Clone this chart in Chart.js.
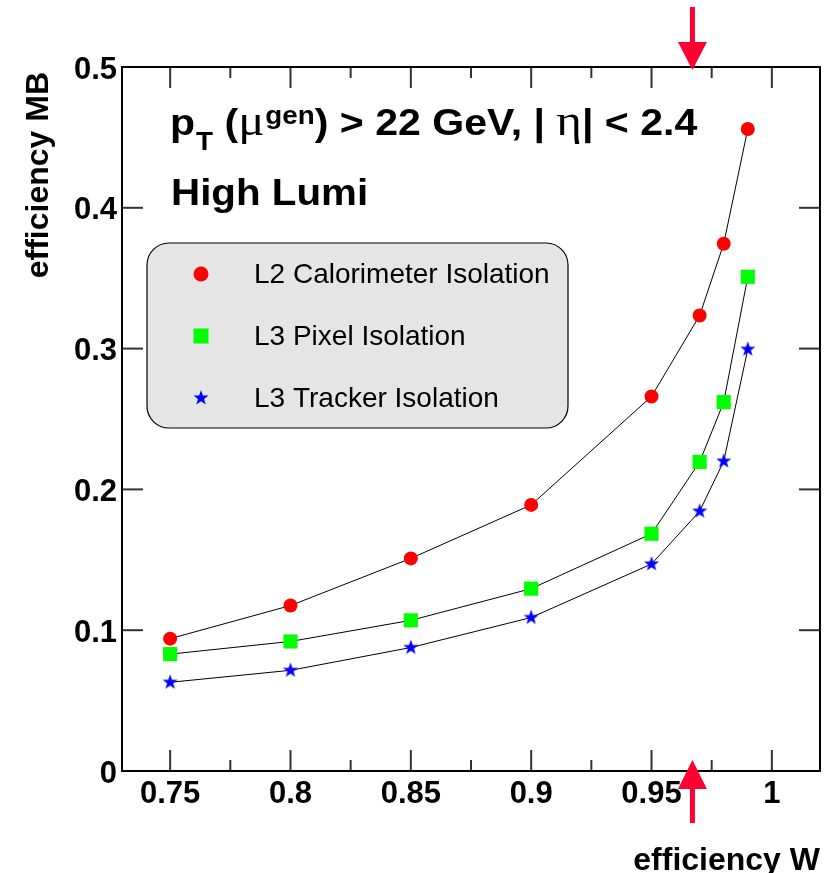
<!DOCTYPE html>
<html>
<head>
<meta charset="utf-8">
<script src="https://cdn.jsdelivr.net/npm/chart.js@4.4.1/dist/chart.umd.min.js"></script>
<style>
  body { margin: 0; background: #fff; }
  canvas { display: block; }
</style>
</head>
<body>
<canvas id="grafico" width="830" height="873"></canvas>
<script>
// datos
const effW = [0.75, 0.8, 0.85, 0.9, 0.95, 0.97, 0.98, 0.99];
const effCalo = [0.094, 0.1175, 0.151, 0.189, 0.266, 0.3235, 0.3745, 0.456];
const effPixel = [0.083, 0.092, 0.107, 0.1295, 0.1685, 0.2195, 0.262, 0.351];
const effTracker = [0.063, 0.0715, 0.0877, 0.109, 0.147, 0.1845, 0.22, 0.2995];
const nombresSeries = ['L2 Calorimeter Isolation', 'L3 Pixel Isolation', 'L3 Tracker Isolation'];
const xTicks = [0.75, 0.8, 0.85, 0.9, 0.95, 1];
const xMinorTicks = [0.775, 0.825, 0.875, 0.925, 0.975];
const yTicks = [0, 0.1, 0.2, 0.3, 0.4, 0.5];
const flechaW = 0.967;

const FUENTE = 'Liberation Sans, Arial, sans-serif';
const SERIF = 'Liberation Serif, Times New Roman, serif';

function hacerEstrella(rExt, rInt, color) {
    const s = Math.ceil(rExt * 2) + 2;
    const c = document.createElement('canvas');
    c.width = s;
    c.height = s;
    const g = c.getContext('2d');
    g.fillStyle = color;
    g.beginPath();
    for (let i = 0; i < 10; i++) {
        const r = i % 2 ? rInt : rExt;
        const a = -Math.PI / 2 + i * Math.PI / 5;
        g.lineTo(s / 2 + r * Math.cos(a), s / 2 + r * Math.sin(a));
    }
    g.closePath();
    g.fill();
    return c;
}

const estrella = hacerEstrella(8, 3.2, '#0000ff');
const puntos = ys => effW.map((x, i) => ({ x: x, y: ys[i] }));

function linea(ctx, x1, y1, x2, y2) {
    ctx.beginPath();
    ctx.moveTo(x1, y1);
    ctx.lineTo(x2, y2);
    ctx.stroke();
}

function marcador(ctx, tipo, x, y) {
    if (tipo === 0) {
        ctx.fillStyle = '#ff0000';
        ctx.beginPath();
        ctx.arc(x, y, 7.5, 0, Math.PI * 2);
        ctx.fill();
    } else if (tipo === 1) {
        ctx.fillStyle = '#00ff00';
        ctx.fillRect(x - 7.5, y - 7.5, 15, 15);
    } else {
        ctx.drawImage(estrella, x - estrella.width / 2, y - estrella.height / 2);
    }
}

const decoracion = {
    id: 'decoracion',
    afterDraw(chart) {
        const ctx = chart.ctx;
        const a = chart.chartArea;
        const xs = chart.scales.x;
        const ys = chart.scales.y;
        ctx.save();

        // ticks hacia dentro
        ctx.strokeStyle = '#333';
        ctx.lineWidth = 2;
        xTicks.forEach(v => {
            const px = xs.getPixelForValue(v);
            linea(ctx, px, a.bottom, px, a.bottom - 21);
            linea(ctx, px, a.top, px, a.top + 21);
        });
        xMinorTicks.forEach(v => {
            const px = xs.getPixelForValue(v);
            linea(ctx, px, a.bottom, px, a.bottom - 11);
            linea(ctx, px, a.top, px, a.top + 11);
        });
        yTicks.forEach(v => {
            const py = ys.getPixelForValue(v);
            linea(ctx, a.left, py, a.left + 21, py);
            linea(ctx, a.right, py, a.right - 21, py);
        });

        // marco
        ctx.strokeStyle = '#000';
        ctx.lineWidth = 2;
        ctx.strokeRect(a.left, a.top, a.right - a.left, a.bottom - a.top);

        // leyenda
        const lx1 = 147, lx2 = 568, ly1 = 243, ly2 = 428, r = 22;
        ctx.beginPath();
        ctx.moveTo(lx1 + r, ly1);
        ctx.arcTo(lx2, ly1, lx2, ly2, r);
        ctx.arcTo(lx2, ly2, lx1, ly2, r);
        ctx.arcTo(lx1, ly2, lx1, ly1, r);
        ctx.arcTo(lx1, ly1, lx2, ly1, r);
        ctx.closePath();
        ctx.fillStyle = '#e5e5e5';
        ctx.fill();
        ctx.lineWidth = 1.2;
        ctx.strokeStyle = '#000';
        ctx.stroke();
        const filas = [274, 336, 398];
        ctx.font = '28px ' + FUENTE;
        ctx.textBaseline = 'middle';
        ctx.textAlign = 'left';
        nombresSeries.forEach((n, i) => {
            marcador(ctx, i, 201, filas[i]);
            ctx.fillStyle = '#000';
            ctx.fillText(n, 254, filas[i] + 1);
        });

        // texto principal (algo ensanchado, como en el original)
        ctx.fillStyle = '#000';
        ctx.textBaseline = 'alphabetic';
        let k = 1.11;
        let x = 170;
        const trozo = (t, fuente, y) => {
            ctx.font = fuente;
            ctx.save();
            ctx.translate(x, y);
            ctx.scale(k, 1);
            ctx.fillText(t, 0, 0);
            ctx.restore();
            x += ctx.measureText(t).width * k;
        };
        const B = 135;
        trozo('p', 'bold 37px ' + FUENTE, B);
        x += 1;
        trozo('T', 'bold 25px ' + FUENTE, B + 15);
        trozo(' (', 'bold 37px ' + FUENTE, B);
        trozo('\u03bc', '44px ' + SERIF, B);
        x += 1;
        trozo('gen', 'bold 25px ' + FUENTE, B - 11);
        trozo(') > 22 GeV, | ', 'bold 37px ' + FUENTE, B);
        trozo('\u03b7', '44px ' + SERIF, B);
        trozo('| < 2.4', 'bold 37px ' + FUENTE, B);

        k = 1.09;
        x = 171;
        trozo('High Lumi', 'bold 37px ' + FUENTE, 205);

        // titulos de ejes
        ctx.font = 'bold 32px ' + FUENTE;
        ctx.textAlign = 'right';
        ctx.fillText('efficiency W', 820, 870);
        ctx.save();
        ctx.translate(48, 72);
        ctx.rotate(-Math.PI / 2);
        ctx.fillText('efficiency MB', 0, 0);
        ctx.restore();

        // flechas
        const fx = xs.getPixelForValue(flechaW);
        ctx.fillStyle = '#ff0033';
        ctx.fillRect(fx - 2.5, 7, 5, 38);
        ctx.beginPath();
        ctx.moveTo(fx - 14.5, 42);
        ctx.lineTo(fx + 14.5, 42);
        ctx.lineTo(fx, 70);
        ctx.closePath();
        ctx.fill();
        ctx.fillRect(fx - 2.5, 786, 5, 37);
        ctx.beginPath();
        ctx.moveTo(fx - 14.5, 789);
        ctx.lineTo(fx + 14.5, 789);
        ctx.lineTo(fx, 760);
        ctx.closePath();
        ctx.fill();

        ctx.restore();
    }
};

const fuenteTicks = { family: FUENTE, size: 31, weight: 'bold' };

const serieBase = {
    showLine: true,
    borderColor: '#000',
    borderWidth: 1,
    tension: 0,
    pointBorderWidth: 0,
    clip: false
};

new Chart(document.getElementById('grafico').getContext('2d'), {
    type: 'line',
    data: {
        datasets: [
            Object.assign({}, serieBase, {
                label: nombresSeries[0], data: puntos(effCalo),
                pointStyle: 'circle', pointRadius: 7, pointBackgroundColor: '#ff0000'
            }),
            Object.assign({}, serieBase, {
                label: nombresSeries[1], data: puntos(effPixel),
                pointStyle: 'rect', pointRadius: 10, pointBackgroundColor: '#00ff00'
            }),
            Object.assign({}, serieBase, {
                label: nombresSeries[2], data: puntos(effTracker),
                pointStyle: estrella, pointRadius: 8, pointBackgroundColor: '#0000ff'
            })
        ]
    },
    options: {
        responsive: false,
        animation: false,
        events: [],
        devicePixelRatio: 1,
        layout: { padding: { top: 67, right: 7, left: 0, bottom: 0 } },
        plugins: { legend: { display: false }, tooltip: { enabled: false } },
        scales: {
            x: {
                type: 'linear',
                min: 0.73,
                max: 1.02,
                grid: { display: false, drawTicks: false },
                border: { display: false },
                afterFit: s => { s.height = 102; },
                afterBuildTicks: s => { s.ticks = xTicks.map(v => ({ value: v })); },
                ticks: {
                    autoSkip: false, maxRotation: 0, padding: 5, color: '#000',
                    font: fuenteTicks, callback: v => String(v)
                }
            },
            y: {
                min: 0,
                max: 0.5,
                grid: { display: false, drawTicks: false },
                border: { display: false },
                afterFit: s => { s.width = 122; },
                afterBuildTicks: s => { s.ticks = yTicks.map(v => ({ value: v })); },
                ticks: {
                    autoSkip: false, padding: 5, color: '#000', labelOffset: 3,
                    font: fuenteTicks, callback: v => String(v)
                }
            }
        }
    },
    plugins: [decoracion]
});
</script>
</body>
</html>
